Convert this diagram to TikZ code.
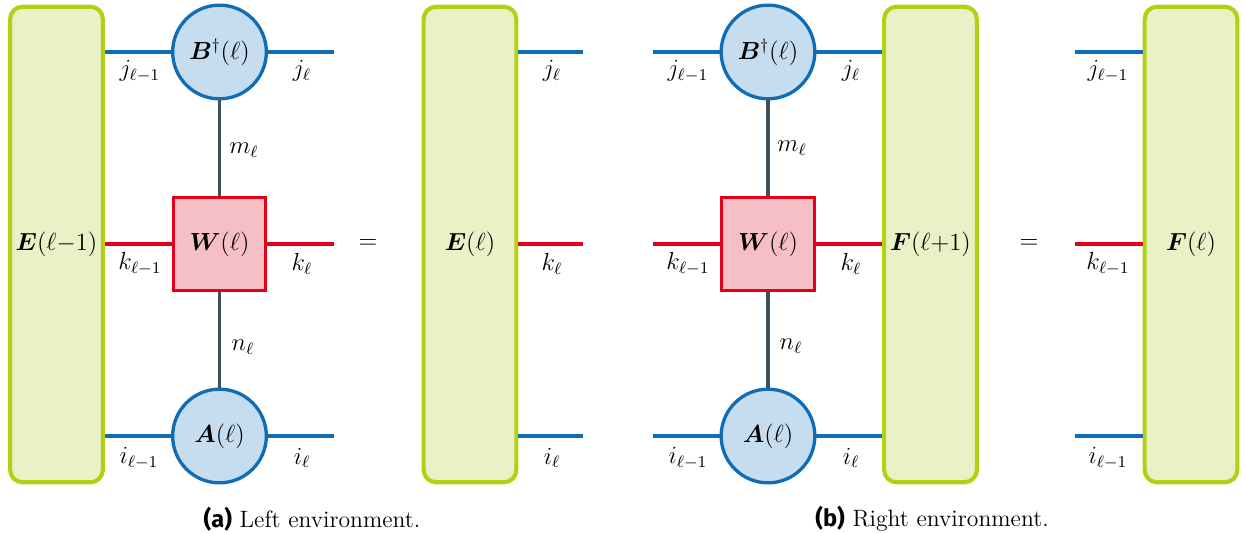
\documentclass[tikz,border=0pt]{standalone}
\usepackage{amsmath,bm}
\usepackage{fontspec}
\newfontfamily\capfont{Fira Sans}
\definecolor{envstroke}{HTML}{B4CF14}
\definecolor{envfill}{HTML}{E8F2C6}
\definecolor{tblue}{HTML}{0F6CB6}
\definecolor{tbluefill}{HTML}{C6DCEF}
\definecolor{tred}{HTML}{E3001B}
\definecolor{tredfill}{HTML}{F6BFC6}
\definecolor{tgray}{HTML}{3C505D}
\tikzset{
  envbox/.style={draw=envstroke, fill=envfill, line width=2pt, rounded corners=6pt,
    minimum width=45pt, minimum height=231pt, inner sep=0pt, font=\large},
  tensor/.style={circle, draw=tblue, fill=tbluefill, line width=1.6pt,
    minimum size=45.5pt, inner sep=0pt, font=\large},
  mpo/.style={rectangle, draw=tred, fill=tredfill, line width=1.6pt,
    minimum size=45pt, inner sep=0pt, font=\large},
  bleg/.style={draw=tblue, line width=1.6pt},
  rleg/.style={draw=tred, line width=1.6pt},
  gleg/.style={draw=tgray, line width=1.6pt},
  idx/.style={inner sep=0pt, font=\large},
  captxt/.style={inner sep=0pt, font=\fontsize{11.5pt}{14pt}\selectfont},
}
\begin{document}
\begin{tikzpicture}[x=0.4857pt,y=-0.4857pt]
\useasboundingbox (0,0) rectangle (1245,533);

% ---------- (a) Left environment ----------
\node[envbox] (E1) at (56.5,244.5) {$\bm{E}(\ell{-}1)$};
\node[tensor] (B1) at (219.5,52) {$\bm{B}^{\dagger}(\ell)$};
\node[mpo] (W1) at (219.5,244) {$\bm{W}(\ell)$};
\node[tensor] (A1) at (219.5,436) {$\bm{A}(\ell)$};
\coordinate (jR1) at (334,52);
\coordinate (kR1) at (334,244);
\coordinate (iR1) at (334,436);

\draw[bleg] (E1.east |- B1.west) -- (B1.west);
\draw[bleg] (B1.east) -- (jR1);
\draw[rleg] (E1.east |- W1.west) -- (W1.west);
\draw[rleg] (W1.east) -- (kR1);
\draw[bleg] (E1.east |- A1.west) -- (A1.west);
\draw[bleg] (A1.east) -- (iR1);
\draw[gleg] (B1.south) -- (W1.north);
\draw[gleg] (W1.south) -- (A1.north);

\node[idx] (lj1a) at (140,71) {$j_{\ell-1}$};
\node[idx] (lj1b) at (302,71) {$j_{\ell}$};
\node[idx] (lm1) at (244,150) {$m_{\ell}$};
\node[idx] (lk1a) at (140,264) {$k_{\ell-1}$};
\node[idx] (lk1b) at (302,264) {$k_{\ell}$};
\node[idx] (ln1) at (243,347) {$n_{\ell}$};
\node[idx] (li1a) at (139,458) {$i_{\ell-1}$};
\node[idx] (li1b) at (302,458) {$i_{\ell}$};

\node[idx] (eq1) at (368,244) {$=$};

\node[envbox] (E2) at (470,244.5) {$\bm{E}(\ell)$};
\coordinate (jR2) at (583,52);
\coordinate (kR2) at (583,244);
\coordinate (iR2) at (583,436);
\draw[bleg] (E2.east |- jR2) -- (jR2);
\draw[rleg] (E2.east |- kR2) -- (kR2);
\draw[bleg] (E2.east |- iR2) -- (iR2);
\node[idx] (lj2) at (552,71) {$j_{\ell}$};
\node[idx] (lk2) at (552,264) {$k_{\ell}$};
\node[idx] (li2) at (552,458) {$i_{\ell}$};

\node[captxt] (capa) at (312,519) {{\capfont\bfseries (a)} Left environment.};

% ---------- (b) Right environment ----------
\node[envbox] (F1) at (930.5,244.5) {$\bm{F}(\ell{+}1)$};
\node[tensor] (B2) at (768,52) {$\bm{B}^{\dagger}(\ell)$};
\node[mpo] (W2) at (768,244) {$\bm{W}(\ell)$};
\node[tensor] (A2) at (768,436) {$\bm{A}(\ell)$};
\coordinate (jL3) at (653,52);
\coordinate (kL3) at (653,244);
\coordinate (iL3) at (653,436);

\draw[bleg] (jL3) -- (B2.west);
\draw[bleg] (B2.east) -- (F1.west |- B2.east);
\draw[rleg] (kL3) -- (W2.west);
\draw[rleg] (W2.east) -- (F1.west |- W2.east);
\draw[bleg] (iL3) -- (A2.west);
\draw[bleg] (A2.east) -- (F1.west |- A2.east);
\draw[gleg] (B2.south) -- (W2.north);
\draw[gleg] (W2.south) -- (A2.north);

\node[idx] (lj3a) at (688,71) {$j_{\ell-1}$};
\node[idx] (lj3b) at (851,71) {$j_{\ell}$};
\node[idx] (lm3) at (792,148) {$m_{\ell}$};
\node[idx] (lk3a) at (688,264) {$k_{\ell-1}$};
\node[idx] (lk3b) at (851,264) {$k_{\ell}$};
\node[idx] (ln3) at (791,346) {$n_{\ell}$};
\node[idx] (li3a) at (688,458) {$i_{\ell-1}$};
\node[idx] (li3b) at (851,458) {$i_{\ell}$};

\node[idx] (eq2) at (1029,244) {$=$};

\node[envbox] (F2) at (1191,244.5) {$\bm{F}(\ell)$};
\coordinate (jL4) at (1075,52);
\coordinate (kL4) at (1075,244);
\coordinate (iL4) at (1075,436);
\draw[bleg] (jL4) -- (F2.west |- jL4);
\draw[rleg] (kL4) -- (F2.west |- kL4);
\draw[bleg] (iL4) -- (F2.west |- iL4);
\node[idx] (lj4) at (1108,71) {$j_{\ell-1}$};
\node[idx] (lk4) at (1108,264) {$k_{\ell-1}$};
\node[idx] (li4) at (1108,458) {$i_{\ell-1}$};

\node[captxt] (capb) at (932,519) {{\capfont\bfseries (b)} Right environment.};
\end{tikzpicture}
\end{document}
